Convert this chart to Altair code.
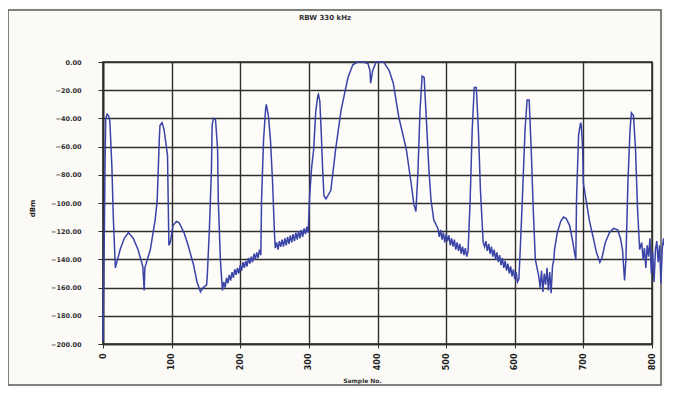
import altair as alt
import pandas as pd

title_text = "RBW 330 kHz"
x_title = "Sample No."
y_title = "dBm"
x_ticks = [0, 100, 200, 300, 400, 500, 600, 700, 800]
y_ticks = [0, -20, -40, -60, -80, -100, -120, -140, -160, -180, -200]

sample = [
    0, 2, 3, 4, 6, 8, 10, 13, 15, 18,
    25, 31, 37, 44, 51, 58, 60, 61,
    69, 76, 79, 82, 83, 86, 89, 94, 95, 96, 98,
    102, 107, 111, 118, 124, 132, 137, 142, 146, 151, 152,
    155, 158, 159, 161, 164, 167, 168, 171, 174,
    176, 178, 180, 182, 184, 186, 188, 190, 192, 194, 196, 198, 200, 202,
    204, 206, 208, 210, 212, 214, 216, 218, 220, 222, 224, 226, 228, 230,
    231, 234, 237, 238, 241, 244, 247, 250, 251,
    253, 255, 257, 259, 261, 263, 265, 267, 269, 271, 273, 275, 277, 279,
    281, 283, 285, 287, 289, 291, 293, 295, 297, 299,
    301, 304, 307, 310, 313, 314, 316, 318, 320, 322, 325,
    332, 339, 347, 357, 364, 371, 379, 386, 389, 390, 393, 398, 405, 409,
    417, 423, 431, 442, 449, 453, 456,
    459, 462, 465, 468, 471, 475, 478, 482, 488,
    490, 492, 494, 496, 498, 500, 502, 504, 506, 508, 510, 512, 514, 516,
    518, 520, 522, 524, 526, 528, 530, 532,
    535, 538, 541, 544, 547, 550, 554,
    556, 558, 560, 562, 564, 566, 568, 570, 572, 574, 576, 578, 580, 582,
    584, 586, 588, 590, 592, 594, 596, 598, 600, 602, 604, 606,
    608, 611, 615, 618, 621, 624, 627, 630, 635,
    637, 639, 641, 643, 645, 647, 649, 651, 653, 655, 657,
    658, 662, 667, 671, 675, 680, 684, 687, 689,
    690, 693, 696, 697, 699, 700, 705, 709, 715, 719, 724, 727,
    732, 738, 744, 750, 754, 757, 760, 762,
    765, 768, 770, 773, 776, 779, 782,
    785, 787, 789, 791, 793, 795, 797, 799, 801, 803, 805, 807, 809, 811,
    813, 815, 817, 818,
]

level = [
    -198, -120, -70, -40, -37, -38, -42, -75, -110, -146,
    -133, -125, -121, -125, -133, -145, -162, -146,
    -133, -112, -98, -55, -45, -43, -48, -66, -98, -130, -128,
    -116, -113, -114, -121, -130, -144, -156, -163, -160, -158, -151,
    -119, -77, -45, -40, -41, -62, -98, -140, -162,
    -156, -160, -153, -157, -151, -155, -149, -153, -147, -151, -146, -150, -144, -148,
    -142, -146, -141, -145, -139, -143, -138, -142, -136, -140, -135, -139, -133, -137,
    -98, -55, -33, -30, -38, -55, -84, -123, -132,
    -128, -133, -127, -131, -126, -131, -125, -130, -124, -129, -123, -128, -122, -127,
    -121, -126, -120, -125, -119, -124, -118, -122, -117, -121,
    -96, -75, -62, -35, -24, -23, -28, -50, -75, -95, -97,
    -91, -62, -34, -11, -2, 0, 0, -1, -6, -15, -6, 0, 0, 0,
    -6, -15, -39, -62, -86, -101, -106,
    -77, -34, -10, -11, -39, -77, -98, -112, -118,
    -124, -119, -126, -121, -128, -122, -127, -123, -130, -125, -131, -126, -133, -128,
    -134, -129, -136, -131, -137, -132, -138, -134,
    -98, -48, -18, -18, -48, -91, -128,
    -131, -127, -134, -129, -136, -131, -138, -133, -140, -135, -142, -137, -144, -139,
    -146, -141, -148, -143, -150, -145, -152, -147, -154, -149, -156, -154,
    -133, -98, -48, -27, -27, -62, -105, -140, -152,
    -160, -148, -163, -150, -158, -146, -162, -149, -164, -145, -140,
    -133, -121, -113, -110, -111, -116, -126, -135, -140,
    -98, -52, -43, -45, -62, -86, -101, -113, -126, -135, -142, -139,
    -128, -121, -118, -119, -125, -133, -155, -140,
    -84, -48, -36, -38, -62, -105, -133,
    -128, -140, -132, -146, -130, -138, -125, -150, -135, -156, -133, -127, -142, -130,
    -157, -132, -125, -130,
]

df = pd.DataFrame({"sample": sample, "dBm": level})

label_font = "DejaVu Sans"
grid_color = "#2e2e2e"

line = alt.Chart(df).mark_line(color="#3a43a6", strokeWidth=1.5, clip=False).encode(
    x=alt.X(
        "sample:Q",
        scale=alt.Scale(domain=[0, 800], nice=False, zero=False),
        axis=alt.Axis(
            values=x_ticks, labelAngle=-90, labelFontSize=8, labelFontWeight="bold",
            labelColor="#222", labelPadding=5, tickSize=4, tickColor=grid_color,
            domainColor=grid_color, domainWidth=1.5, gridColor=grid_color, gridWidth=1.4,
            gridOpacity=1, title=x_title, titleFontSize=6, titleFontWeight="bold",
            titleColor="#333", titleX=259, titleY=36, titleBaseline="middle",
            titleAlign="center", labelFont=label_font, titleFont=label_font,
        ),
    ),
    y=alt.Y(
        "dBm:Q",
        scale=alt.Scale(domain=[-200, 0], nice=False, zero=False),
        axis=alt.Axis(
            values=y_ticks, format=".2f", labelFontSize=6.5, labelFontWeight="bold",
            labelColor="#333", labelPadding=17, tickSize=5, tickColor=grid_color,
            domainColor=grid_color, domainWidth=1.8, gridColor=grid_color, gridWidth=1.4,
            gridOpacity=1, title=y_title, titleFontSize=7, titleFontWeight="bold",
            titleColor="#222", titleX=-71, titleY=146, titleAngle=-90,
            titleBaseline="middle", titleAlign="center",
            labelFont=label_font, titleFont=label_font,
        ),
    ),
)

frame = alt.Chart(alt.Data(values=[{"k": 1}])).mark_rect(
    fill="transparent", stroke="#5a5a5a", strokeWidth=1.5, clip=False
).encode(
    x=alt.value(-95), x2=alt.value(558), y=alt.value(-52), y2=alt.value(323)
)

heading = alt.Chart(alt.Data(values=[{"t": title_text}])).mark_text(
    fontSize=7, fontWeight="bold", color="#333", font=label_font,
    align="center", baseline="middle", clip=False,
).encode(
    text="t:N", x=alt.value(222), y=alt.value(-44)
)

chart = alt.layer(frame, heading, line).properties(
    width=549,
    height=282,
    autosize=alt.AutoSizeParams(type="none"),
    padding={"left": 95, "top": 54, "right": 12, "bottom": 44},
    background="#fbfaf6",
).configure_view(
    stroke=grid_color, strokeWidth=1.5, fill="#fdfcf9"
)

chart.save("out.html", embed_options={"renderer": "svg", "actions": False})
